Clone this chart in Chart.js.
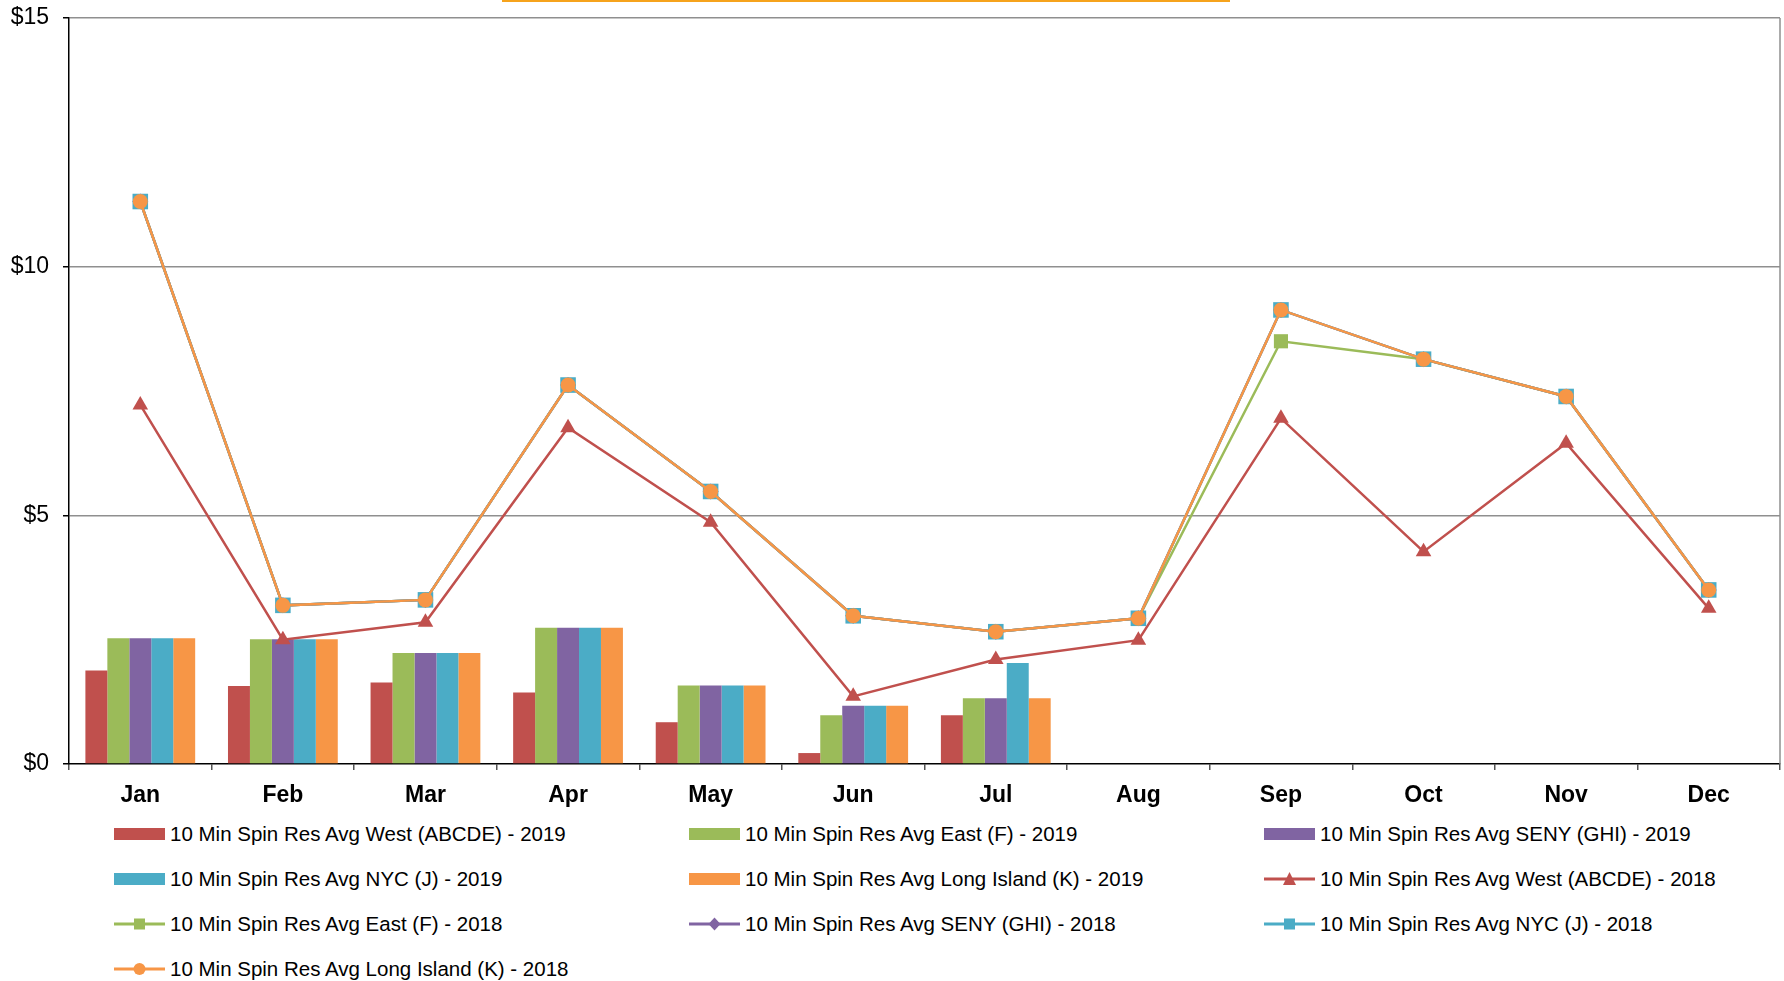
<!DOCTYPE html>
<html>
<head>
<meta charset="utf-8">
<title>10 Min Spin Reserve Averages</title>
<script src="https://cdn.jsdelivr.net/npm/chart.js@4"></script>
<style>
  html, body { margin: 0; padding: 0; background: #fff; overflow: hidden; font-family: "Liberation Sans", Arial, sans-serif; }
  #wrap { position: relative; width: 1784px; height: 981px; overflow: hidden; }
  #topBar { position: absolute; top: 0; left: 502px; width: 728px; height: 2px; background: #f6a31c; }
  #spinChart { position: absolute; top: 0; left: 0; }
  #legend { position: absolute; left: 114px; top: 811px; width: 1740px; }
  .row { height: 45px; display: flex; align-items: center; }
  .item { width: 575px; flex: none; display: flex; align-items: center; font-size: 20.5px; color: #000; white-space: nowrap; }
  .item svg { width: 51px; height: 16px; margin-right: 5px; flex: none; }
</style>
</head>
<body>
<div id="wrap">
  <canvas id="spinChart" width="1784" height="810"></canvas>
  <div id="topBar"></div>
  <div id="legend"></div>
</div>
<script>
const months = ['Jan', 'Feb', 'Mar', 'Apr', 'May', 'Jun', 'Jul', 'Aug', 'Sep', 'Oct', 'Nov', 'Dec'];

// 2019 monthly averages (bars), only through July
const west2019 = [1.88, 1.57, 1.64, 1.44, 0.84, 0.22, 0.98, null, null, null, null, null];
const east2019 = [2.53, 2.51, 2.23, 2.74, 1.58, 0.98, 1.32, null, null, null, null, null];
const seny2019 = [2.53, 2.51, 2.23, 2.74, 1.58, 1.17, 1.32, null, null, null, null, null];
const nyc2019  = [2.53, 2.51, 2.23, 2.74, 1.58, 1.17, 2.03, null, null, null, null, null];
const li2019   = [2.53, 2.51, 2.23, 2.74, 1.58, 1.17, 1.32, null, null, null, null, null];

// 2018 monthly averages (lines)
const west2018 = [7.22, 2.50, 2.85, 6.76, 4.86, 1.36, 2.10, 2.49, 6.95, 4.27, 6.45, 3.13];
const east2018 = [11.31, 3.19, 3.30, 7.62, 5.48, 2.98, 2.66, 2.93, 8.50, 8.14, 7.39, 3.50];
const seny2018 = [11.31, 3.19, 3.30, 7.62, 5.48, 2.98, 2.66, 2.93, 9.13, 8.14, 7.39, 3.50];
const nyc2018  = [11.31, 3.19, 3.30, 7.62, 5.48, 2.98, 2.66, 2.93, 9.13, 8.14, 7.39, 3.50];
const li2018   = [11.31, 3.19, 3.30, 7.62, 5.48, 2.98, 2.66, 2.93, 9.13, 8.14, 7.39, 3.50];

const yTicks = [0, 5, 10, 15];

const RED = '#C0504D', GREEN = '#9BBB59', PURPLE = '#8064A2', CYAN = '#4BACC6', ORANGE = '#F79646';

function barSet(label, data, color, order) {
  return { type: 'bar', label, data, backgroundColor: color, borderWidth: 0, order,
           categoryPercentage: 0.77, barPercentage: 1.0 };
}

function lineSet(label, data, color, style, radius, order) {
  return { type: 'line', label, data, borderColor: color, backgroundColor: color, borderWidth: 2.5,
           pointStyle: style, pointRadius: radius, pointBorderWidth: 0, pointBackgroundColor: color,
           tension: 0, fill: false, order };
}

// lower order is drawn last, so the Long Island line ends up on top of everything
const datasets = [
  barSet('10 Min Spin Res Avg West (ABCDE) - 2019', west2019, RED, 5),
  barSet('10 Min Spin Res Avg East (F) - 2019', east2019, GREEN, 6),
  barSet('10 Min Spin Res Avg SENY (GHI) - 2019', seny2019, PURPLE, 7),
  barSet('10 Min Spin Res Avg NYC (J) - 2019', nyc2019, CYAN, 8),
  barSet('10 Min Spin Res Avg Long Island (K) - 2019', li2019, ORANGE, 9),
  lineSet('10 Min Spin Res Avg West (ABCDE) - 2018', west2018, RED, 'triangle', 9, 4),
  lineSet('10 Min Spin Res Avg East (F) - 2018', east2018, GREEN, 'rect', 10, 3),
  lineSet('10 Min Spin Res Avg SENY (GHI) - 2018', seny2018, PURPLE, 'rectRot', 8, 2),
  lineSet('10 Min Spin Res Avg NYC (J) - 2018', nyc2018, CYAN, 'rect', 11, 1),
  lineSet('10 Min Spin Res Avg Long Island (K) - 2018', li2018, ORANGE, 'circle', 7.5, 0)
];

// thin gray frame line on the right side of the plot
const rightEdge = {
  id: 'rightEdge',
  afterDraw(chart) {
    const { ctx, chartArea } = chart;
    ctx.save();
    ctx.strokeStyle = '#8f8f8f';
    ctx.lineWidth = 1.5;
    ctx.beginPath();
    ctx.moveTo(chartArea.right, chartArea.top);
    ctx.lineTo(chartArea.right, chartArea.bottom);
    ctx.stroke();
    ctx.restore();
  }
};

function setupChart() {
  new Chart(document.getElementById('spinChart'), {
    data: { labels: months, datasets },
    options: {
      responsive: false,
      devicePixelRatio: 1,
      animation: false,
      layout: { autoPadding: false, padding: { top: 18, right: 4, left: 0, bottom: 0 } },
      plugins: { legend: { display: false }, tooltip: { enabled: false } },
      scales: {
        x: {
          afterFit: s => { s.height = 46; s.paddingLeft = 0; s.paddingRight = 0; },
          grid: { offset: true, drawOnChartArea: false, tickLength: 6, tickColor: '#555', lineWidth: 1.5 },
          border: { color: '#000', width: 1.5 },
          ticks: { color: '#000', padding: 12, font: { family: 'Liberation Sans', size: 23, weight: 'bold' } }
        },
        y: {
          min: 0, max: 15,
          afterFit: s => { s.width = 69; s.paddingTop = 0; s.paddingBottom = 0; },
          afterBuildTicks: s => { s.ticks = yTicks.map(v => ({ value: v })); },
          grid: {
            color: ctx => ctx.tick && ctx.tick.value === 0 ? 'rgba(0,0,0,0)' : '#8f8f8f',
            lineWidth: 1.5, tickLength: 6, tickColor: '#000'
          },
          border: { color: '#000', width: 1.5 },
          ticks: { color: '#000', padding: 14, callback: v => '$' + v,
                   font: { family: 'Liberation Sans', size: 23 } }
        }
      }
    },
    plugins: [rightEdge]
  });
}

// legend swatch: filled box for bars, line with marker for 2018 series
function swatch(ds) {
  const c = ds.borderColor || ds.backgroundColor;
  if (ds.type === 'bar') {
    return `<svg viewBox="0 0 51 16"><rect x="0" y="2" width="51" height="12" fill="${ds.backgroundColor}"/></svg>`;
  }
  let mark = '';
  if (ds.pointStyle === 'triangle') mark = `<polygon points="25.5,1 32,14 19,14" fill="${c}"/>`;
  else if (ds.pointStyle === 'rect') mark = `<rect x="20" y="2.5" width="11" height="11" fill="${c}"/>`;
  else if (ds.pointStyle === 'rectRot') mark = `<polygon points="25.5,1.5 31.5,8 25.5,14.5 19.5,8" fill="${c}"/>`;
  else mark = `<circle cx="25.5" cy="8" r="6" fill="${c}"/>`;
  return `<svg viewBox="0 0 51 16"><line x1="0" y1="8" x2="51" y2="8" stroke="${c}" stroke-width="3"/>${mark}</svg>`;
}

function buildLegend() {
  const box = document.getElementById('legend');
  let html = '';
  for (let i = 0; i < datasets.length; i += 3) {
    html += '<div class="row">';
    datasets.slice(i, i + 3).forEach(ds => {
      html += `<div class="item">${swatch(ds)}<span>${ds.label}</span></div>`;
    });
    html += '</div>';
  }
  box.innerHTML = html;
}

buildLegend();
setupChart();
</script>
</body>
</html>
